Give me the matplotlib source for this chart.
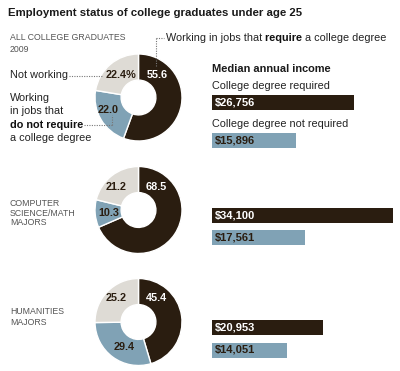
import matplotlib
matplotlib.use("Agg")
import matplotlib.pyplot as plt
import numpy as np

# shares: require degree, not require degree, not working
groups = ["ALL COLLEGE GRADUATES\n2009", "COMPUTER\nSCIENCE/MATH\nMAJORS", "HUMANITIES\nMAJORS"]
require = [55.6, 68.5, 45.4]
not_require = [22.0, 10.3, 29.4]
not_working = [22.4, 21.2, 25.2]

# median annual income
income_req = [26756, 34100, 20953]
income_noreq = [15896, 17561, 14051]

DARK = "#2a1d10"
BLUE = "#80a2b5"
LIGHT = "#dedbd5"
GREY = "#555555"

plt.rcParams["font.family"] = ["Liberation Sans", "DejaVu Sans"]

fig = plt.figure(figsize=(4.0, 3.71), dpi=100)
ax = fig.add_axes([0, 0, 1, 1])

centers_y = [97.5, 210, 322]
cx = 138.5
R = 43.5

for i in range(3):
    vals = [require[i], not_require[i], not_working[i]]
    # y axis is flipped below, so angles run the other way
    ax.pie(vals, colors=[DARK, BLUE, LIGHT], startangle=-90, counterclock=True,
           center=(cx, centers_y[i]), radius=R,
           wedgeprops=dict(width=R * 0.6, edgecolor="white", linewidth=1))

ax.set_xlim(0, 400)
ax.set_ylim(371, 0)
ax.set_aspect("equal")
ax.axis("off")

# bars
scale = 181 / 34100
bar_y = [(102.5, 140.5), (215, 237.5), (327.5, 350)]
for i in range(3):
    y1, y2 = bar_y[i]
    ax.barh(y1, income_req[i] * scale, left=212, height=15, color=DARK)
    ax.barh(y2, income_noreq[i] * scale, left=212, height=15, color=BLUE)
    ax.text(215, y1, "${:,}".format(income_req[i]), color="white", fontsize=8,
            fontweight="bold", va="center", ha="left")
    ax.text(215, y2, "${:,}".format(income_noreq[i]), color=DARK, fontsize=8,
            fontweight="bold", va="center", ha="left")

# title and headings
ax.text(8, 13, "Employment status of college graduates under age 25", fontsize=8.2,
        fontweight="bold", color="#1a1a1a", va="center", ha="left")
ax.text(212, 69, "Median annual income", fontsize=7.9, fontweight="bold",
        color="#1a1a1a", va="center", ha="left")
ax.text(212, 86, "College degree required", fontsize=7.8, color="#222222",
        va="center", ha="left")
ax.text(212, 124, "College degree not required", fontsize=7.8, color="#222222",
        va="center", ha="left")

# group names
ax.text(10, 38, "ALL COLLEGE GRADUATES", fontsize=6.3, color=GREY, va="center")
ax.text(10, 50, "2009", fontsize=6.3, color=GREY, va="center")
ax.text(10, 203, "COMPUTER", fontsize=6.3, color=GREY, va="center")
ax.text(10, 213, "SCIENCE/MATH", fontsize=6.3, color=GREY, va="center")
ax.text(10, 222.5, "MAJORS", fontsize=6.3, color=GREY, va="center")
ax.text(10, 312, "HUMANITIES", fontsize=6.3, color=GREY, va="center")
ax.text(10, 322.5, "MAJORS", fontsize=6.3, color=GREY, va="center")

# callouts for the first donut
ax.text(10, 75, "Not working", fontsize=7.8, color="#222222", va="center")
ax.text(10, 98, "Working", fontsize=7.8, color="#222222", va="center")
ax.text(10, 111, "in jobs that", fontsize=7.8, color="#222222", va="center")
ax.text(10, 125, "do not require", fontsize=7.8, fontweight="bold", color="#111111", va="center")
ax.text(10, 138, "a college degree", fontsize=7.8, color="#222222", va="center")

t1 = ax.text(166, 38, "Working in jobs that ", fontsize=7.8, color="#222222", va="center")
fig.canvas.draw()
bb = t1.get_window_extent().transformed(ax.transData.inverted())
t2 = ax.text(bb.x1, 38, "require ", fontsize=7.8, fontweight="bold", color="#111111", va="center")
fig.canvas.draw()
bb2 = t2.get_window_extent().transformed(ax.transData.inverted())
ax.text(bb2.x1, 38, "a college degree", fontsize=7.8, color="#222222", va="center")

dot = dict(color="#777777", linestyle=(0, (1, 1.2)), linewidth=0.8)
ax.plot([156, 156], [38, 66], **dot)
ax.plot([156, 164], [38, 38], **dot)
ax.plot([69, 103], [76, 76], **dot)
ax.plot([84, 112], [125, 125], **dot)
ax.plot([112, 112], [125, 115], **dot)

# donut value labels
lab = dict(fontsize=7.8, fontweight="bold", va="center", ha="center")
ax.text(121, 75, "22.4%", color=DARK, **lab)
ax.text(157, 75, "55.6", color="white", **lab)
ax.text(108, 110, "22.0", color=DARK, **lab)

ax.text(116, 187, "21.2", color=DARK, **lab)
ax.text(156, 187, "68.5", color="white", **lab)
ax.text(108.5, 213, "10.3", color=DARK, **lab)

ax.text(116, 298, "25.2", color=DARK, **lab)
ax.text(157, 298, "45.4", color="white", **lab)
ax.text(124, 347, "29.4", color=DARK, **lab)

fig.savefig("out.png", dpi=100)
